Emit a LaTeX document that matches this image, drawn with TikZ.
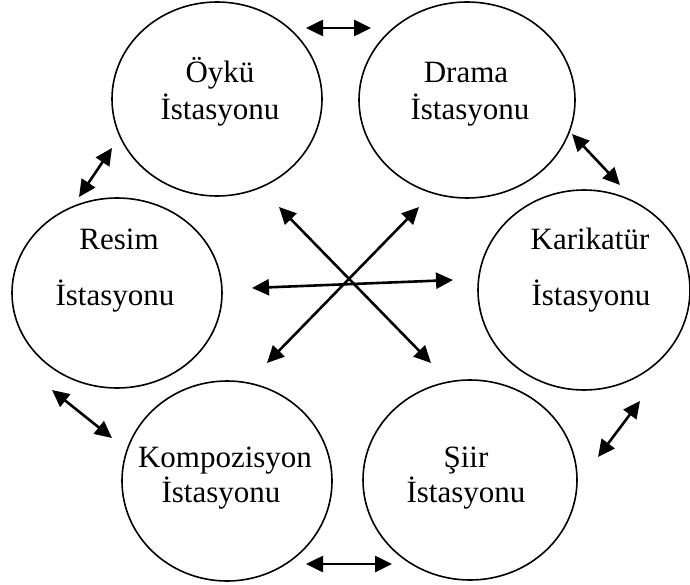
\documentclass[tikz,border=0pt]{standalone}
\usepackage{fontspec}
\setmainfont{Liberation Serif}
\usetikzlibrary{shapes.geometric,arrows.meta}
\begin{document}
\begin{tikzpicture}[x=1pt,y=-1pt,
  station/.style={draw,ellipse,line width=1.6pt,inner sep=0pt},
  lbl/.style={anchor=base,inner sep=0pt,font=\fontsize{31}{36}\selectfont},
  darr/.style={line width=2.6pt,{Triangle[length=17pt,width=16pt]}-{Triangle[length=17pt,width=16pt]}}]
\useasboundingbox[fill=white] (0,0) rectangle (690,585);
% stations
\node[station,minimum width=210pt,minimum height=194pt] (oyku) at (217,99) {};
\node[station,minimum width=216pt,minimum height=196pt] (drama) at (467,100) {};
\node[station,minimum width=212pt,minimum height=200pt] (kari) at (584,290) {};
\node[station,minimum width=210pt,minimum height=190pt] (resim) at (117,293) {};
\node[station,minimum width=210pt,minimum height=200pt] (kompo) at (227,481) {};
\node[station,minimum width=214pt,minimum height=200pt] (siir) at (470,480) {};
% labels
\node[lbl] (oyku1) at (220,83) {Öykü};
\node[lbl] (oyku2) at (220,120) {İstasyonu};
\node[lbl] (drama1) at (466,83) {Drama};
\node[lbl] (drama2) at (470,120) {İstasyonu};
\node[lbl] (resim1) at (119,250) {Resim};
\node[lbl] (resim2) at (115,305) {İstasyonu};
\node[lbl] (kari1) at (590,250) {Karikatür};
\node[lbl] (kari2) at (591,305) {İstasyonu};
\node[lbl] (kompo1) at (225,467) {Kompozisyon};
\node[lbl] (kompo2) at (221,502) {İstasyonu};
\node[lbl] (siir1) at (466,467) {Şiir};
\node[lbl] (siir2) at (466,502) {İstasyonu};
% arrow end points
\coordinate (a1) at (306,28);  \coordinate (a2) at (371,28);
\coordinate (b1) at (572,134); \coordinate (b2) at (620,185);
\coordinate (c1) at (640,401); \coordinate (c2) at (598,457);
\coordinate (d1) at (306,564); \coordinate (d2) at (392,564);
\coordinate (e1) at (52,390);  \coordinate (e2) at (112,438);
\coordinate (f1) at (112,148); \coordinate (f2) at (79,197);
\coordinate (g1) at (279,207); \coordinate (g2) at (431,363);
\coordinate (h1) at (419,207); \coordinate (h2) at (267,363);
\coordinate (k1) at (252,288); \coordinate (k2) at (453,280);
% arrows
\draw[darr] (a1) -- (a2);
\draw[darr] (b1) -- (b2);
\draw[darr] (c1) -- (c2);
\draw[darr] (d1) -- (d2);
\draw[darr] (e1) -- (e2);
\draw[darr] (f1) -- (f2);
\draw[darr] (g1) -- (g2);
\draw[darr] (h1) -- (h2);
\draw[darr] (k1) -- (k2);
\end{tikzpicture}
\end{document}
